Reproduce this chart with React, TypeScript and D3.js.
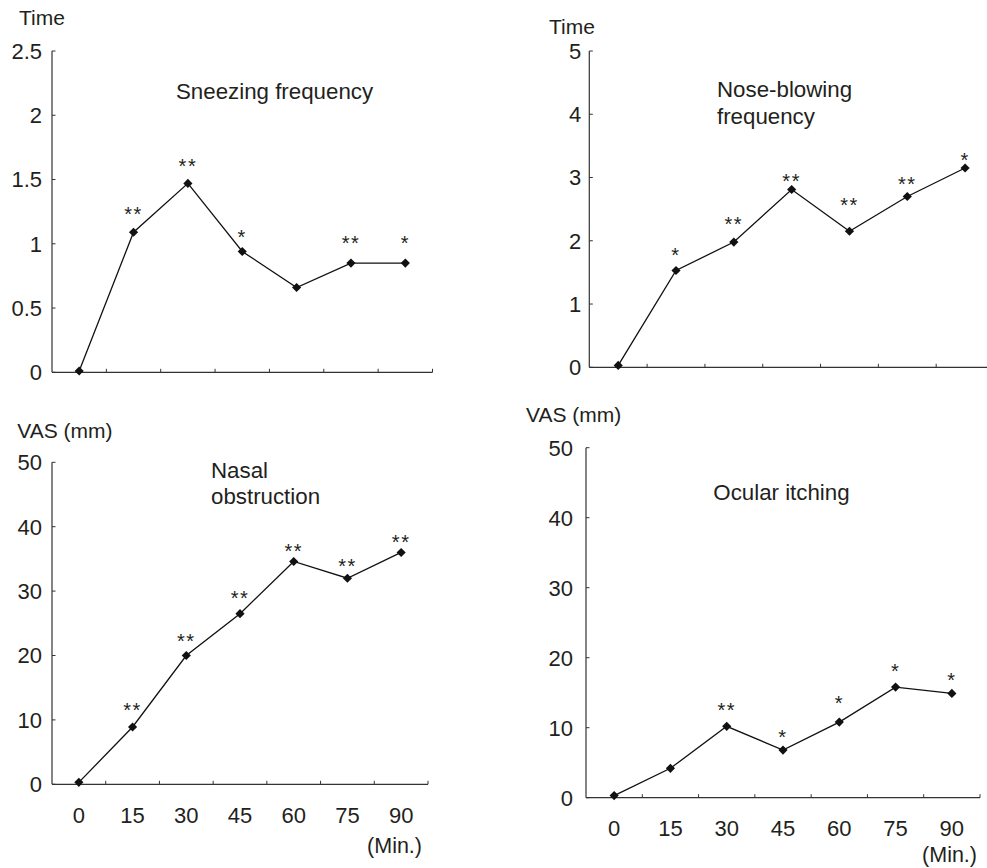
import React from "react";
import * as d3 from "d3";

// ---------- data ----------
const minutes = ["0", "15", "30", "45", "60", "75", "90"];

const sneezing = [0.01, 1.09, 1.47, 0.94, 0.66, 0.85, 0.85];
const sneezingSig = ["", "**", "**", "*", "", "**", "*"];
const sneezingSigY = [null, 1.27, 1.64, 1.085, null, 1.04, 1.04];

const noseBlowing = [0.03, 1.53, 1.98, 2.81, 2.15, 2.7, 3.15];
const noseSig = ["", "*", "**", "**", "**", "**", "*"];
const noseSigY = [null, 1.85, 2.34, 3.01, 2.63, 2.97, 3.35];

const nasal = [0.3, 8.9, 20.0, 26.5, 34.6, 32.0, 36.0];
const nasalSig = ["", "**", "**", "**", "**", "**", "**"];
const nasalSigY = [null, 12.3, 23.0, 29.7, 36.9, 34.6, 38.4];

const ocular = [0.3, 4.2, 10.2, 6.8, 10.8, 15.8, 14.9];
const ocularSig = ["", "", "**", "*", "*", "*", "*"];
const ocularSigY = [null, null, 13.2, 9.3, 14.2, 18.7, 17.5];

const ticksSneeze = [0, 0.5, 1, 1.5, 2, 2.5];
const ticksNose = [0, 1, 2, 3, 4, 5];
const ticksVAS = [0, 10, 20, 30, 40, 50];

// ---------- layout ----------
const FONT = "'Liberation Sans', Arial, Helvetica, sans-serif";
const TEXT = "#231f20";

type Panel = {
  values: number[];
  sig: string[];
  sigY: (number | null)[];
  ticks: number[];
  x0: number;
  x1: number;
  yTop: number;
  yBottom: number;
  unit: string;
  unitX: number;
  unitY: number;
  title: string[];
  titleX: number;
  titleY: number;
  labelGap: number;
  xLabelY: number | null;
  minX: number;
  minY: number;
};

const panels: Panel[] = [
  {
    values: sneezing, sig: sneezingSig, sigY: sneezingSigY, ticks: ticksSneeze,
    x0: 52, x1: 432.5, yTop: 51, yBottom: 372.3,
    unit: "Time", unitX: 19, unitY: 25,
    title: ["Sneezing frequency"], titleX: 176, titleY: 98.5,
    labelGap: 10, xLabelY: null, minX: 0, minY: 0,
  },
  {
    values: noseBlowing, sig: noseSig, sigY: noseSigY, ticks: ticksNose,
    x0: 589.3, x1: 994, yTop: 51, yBottom: 367.3,
    unit: "Time", unitX: 549, unitY: 33.5,
    title: ["Nose-blowing", "frequency"], titleX: 717, titleY: 97,
    labelGap: 8, xLabelY: null, minX: 0, minY: 0,
  },
  {
    values: nasal, sig: nasalSig, sigY: nasalSigY, ticks: ticksVAS,
    x0: 52, x1: 428, yTop: 462.3, yBottom: 784.3,
    unit: "VAS (mm)", unitX: 17.3, unitY: 437.5,
    title: ["Nasal", "obstruction"], titleX: 211, titleY: 477.5,
    labelGap: 10, xLabelY: 822.7, minX: 422, minY: 853,
  },
  {
    values: ocular, sig: ocularSig, sigY: ocularSigY, ticks: ticksVAS,
    x0: 586, x1: 980, yTop: 447.7, yBottom: 797.7,
    unit: "VAS (mm)", unitX: 526, unitY: 421.7,
    title: ["Ocular itching"], titleX: 713.3, titleY: 499.5,
    labelGap: 13, xLabelY: 836, minX: 977, minY: 861.5,
  },
];

const diamond = d3.symbol().type(d3.symbolSquare).size(42)();

function ChartPanel({ p }: { p: Panel }) {
  const x = d3.scaleBand<string>().domain(minutes).range([p.x0, p.x1]);
  const y = d3
    .scaleLinear()
    .domain([0, p.ticks[p.ticks.length - 1]])
    .range([p.yBottom, p.yTop]);
  const cx = (m: string) => (x(m) as number) + x.bandwidth() / 2;
  const line = d3
    .line<number>()
    .x((_, i) => cx(minutes[i]))
    .y((d) => y(d));
  const boundaries = minutes.map((m) => (x(m) as number) + x.bandwidth());

  return (
    <g>
      {/* axes */}
      <line x1={p.x0} x2={p.x0} y1={p.yTop} y2={p.yBottom} stroke="#333" strokeWidth={1.2} />
      <line x1={p.x0} x2={p.x1} y1={p.yBottom} y2={p.yBottom} stroke="#333" strokeWidth={1.2} />
      {p.ticks.map((t) => (
        <g key={"yt" + t}>
          <line x1={p.x0} x2={p.x0 + 3.5} y1={y(t)} y2={y(t)} stroke="#333" strokeWidth={1} />
          <text
            x={p.x0 - p.labelGap}
            y={y(t)}
            dy="0.36em"
            textAnchor="end"
            fontSize={22}
            fontFamily={FONT}
            fill={TEXT}
          >
            {String(t)}
          </text>
        </g>
      ))}
      {boundaries.map((b, i) => (
        <line key={"xt" + i} x1={b} x2={b} y1={p.yBottom} y2={p.yBottom - 3.5} stroke="#333" strokeWidth={1} />
      ))}
      {p.xLabelY !== null &&
        minutes.map((m) => (
          <text
            key={"xl" + m}
            x={cx(m)}
            y={p.xLabelY as number}
            textAnchor="middle"
            fontSize={22}
            fontFamily={FONT}
            fill={TEXT}
          >
            {m}
          </text>
        ))}
      {p.xLabelY !== null && (
        <text x={p.minX} y={p.minY} textAnchor="end" fontSize={21.5} fontFamily={FONT} fill={TEXT}>
          (Min.)
        </text>
      )}
      {/* unit label */}
      <text x={p.unitX} y={p.unitY} fontSize={21} fontFamily={FONT} fill={TEXT}>
        {p.unit}
      </text>
      {/* title */}
      {p.title.map((t, i) => (
        <text
          key={"ti" + i}
          x={p.titleX}
          y={p.titleY + i * 26.7}
          fontSize={22.3}
          fontFamily={FONT}
          fill={TEXT}
        >
          {t}
        </text>
      ))}
      {/* series */}
      <path d={line(p.values) as string} fill="none" stroke="#111" strokeWidth={1.3} />
      {p.values.map((v, i) => (
        <path
          key={"pt" + i}
          d={diamond as string}
          transform={`translate(${cx(minutes[i])},${y(v)}) rotate(45)`}
          fill="#111"
        />
      ))}
      {p.sig.map((s, i) =>
        s && p.sigY[i] !== null ? (
          <text
            key={"sg" + i}
            x={cx(minutes[i])}
            y={y(p.sigY[i] as number) + 11.5}
            textAnchor="middle"
            fontSize={20}
            letterSpacing={1.5}
            fontFamily={FONT}
            fill={TEXT}
          >
            {s}
          </text>
        ) : null
      )}
    </g>
  );
}

export default function App() {
  return (
    <div style={{ position: "absolute", left: 0, top: 0 }}>
      <svg width={987} height={868} viewBox="0 0 987 868" style={{ display: "block", background: "#fff" }}>
        <rect x={0} y={0} width={987} height={868} fill="#fff" />
        {panels.map((p, i) => (
          <ChartPanel key={i} p={p} />
        ))}
      </svg>
    </div>
  );
}
